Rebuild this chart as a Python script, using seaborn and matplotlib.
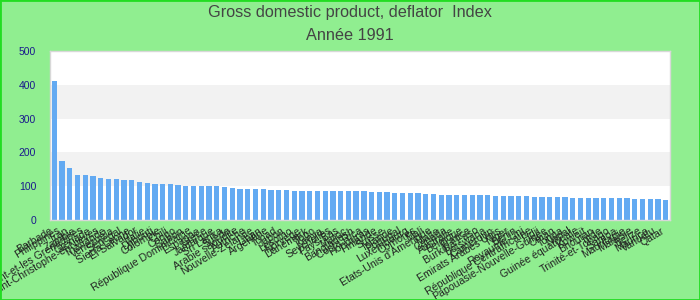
import matplotlib
matplotlib.use("Agg")
import matplotlib.pyplot as plt
import seaborn as sns
import pandas as pd
from matplotlib.patches import Rectangle

countries = [
    "Barbade", "Philippines", "Iran", "Zambie", "Saint-Vincent-et-les Grenadines",
    "Grenade", "Saint-Christophe-et-Niévès", "Thaïlande", "Venezuela", "Sénégal",
    "Sierra Leone", "El Salvador", "Italie", "Djibouti", "Colombie",
    "Chili", "Congo", "Gabon", "République Dominicaine", "Espagne",
    "Grèce", "Jamaïque", "Sri Lanka", "Suède", "Arabie saoudite",
    "Autriche", "Nouvelle-Zélande", "Liban", "Argentine", "Tchad",
    "Japon", "Lesotho", "Norvège", "Danemark", "Togo",
    "Kenya", "Seychelles", "Pays-Bas", "Maroc", "Bangladesh",
    "Costa Rica", "Honduras", "Finlande", "Suisse", "Islande",
    "Portugal", "Luxembourg", "Comores", "Mali", "Etats-Unis d'Amérique",
    "Malte", "Canada", "Australie", "Belgique", "France",
    "Burkina Faso", "Botswana", "Cameroun", "Emirats Arabes Unis", "Niger",
    "Bénin", "Royaume-Uni", "République Centrafricaine", "Fidji", "Papouasie-Nouvelle-Guinée",
    "Oman", "Tonga", "Népal", "Guinée équatoriale", "Koweït",
    "Bhoutan", "Inde", "Trinité-et-Tobago", "Samoa", "Mauritanie",
    "Malaisie", "Belize", "Maurice", "Vanuatu", "Qatar",
]

values = [
    410, 175, 154, 133, 133, 130, 124, 121, 121, 118,
    118, 112, 109, 106, 106, 106, 103, 100, 100, 100,
    100, 100, 97, 94, 91, 91, 91, 91, 89, 89,
    89, 86, 86, 86, 86, 86, 86, 86, 86, 86,
    86, 83, 83, 83, 80, 80, 80, 80, 77, 77,
    74, 74, 74, 74, 74, 74, 74, 71, 71, 71,
    71, 71, 68, 68, 68, 68, 68, 65, 65, 65,
    65, 65, 65, 65, 65, 62, 62, 62, 62, 59,
]

title = "Gross domestic product, deflator  Index"
subtitle = "Année 1991"
y_ticks = [0, 100, 200, 300, 400, 500]

df = pd.DataFrame({"country": countries, "value": values})

sns.set_theme(style="white")
plt.rcParams['font.family'] = ['Liberation Sans', 'DejaVu Sans']

fig = plt.figure(figsize=(7, 3), dpi=100, facecolor="#90ee90")
ax = fig.add_axes([50/700, 80/300, 620/700, 169/300])
ax.set_facecolor("white")

for lo in (100, 300):
    ax.axhspan(lo, lo + 100, color="#f2f2f2", zorder=0, lw=0)

sns.barplot(data=df, x="country", y="value", color="#63aaf2", width=0.68,
            saturation=1, linewidth=0, ax=ax, zorder=2)

ax.set_xlim(-0.55, len(countries) - 0.45)
ax.set_ylim(0, 500)
ax.set_yticks(y_ticks)
ax.set_yticklabels([str(t) for t in y_ticks], color="#1a1a8c", fontsize=7.5)
ax.tick_params(axis="y", length=0, pad=10)
ax.tick_params(axis="x", length=0, pad=4)
ax.set_xticks(range(len(countries)))
ax.set_xticklabels(countries, rotation=31, ha="right", fontsize=7.6, color="#222222")
ax.set_xlabel("")
ax.set_ylabel("")
for s in ax.spines.values():
    s.set_color("#d8d8d8")
    s.set_linewidth(1)

fig.text(0.5, 1 - 12/300, title, ha="center", va="center", fontsize=11.7, color="#444444")
fig.text(0.5, 1 - 36/300, subtitle, ha="center", va="center", fontsize=11.7, color="#444444")

fig.patches.append(Rectangle((0, 0), 1, 1, transform=fig.transFigure, fill=False,
                             edgecolor="#22dd22", lw=2, zorder=10))

fig.savefig("out.png", dpi=100, facecolor=fig.get_facecolor())
